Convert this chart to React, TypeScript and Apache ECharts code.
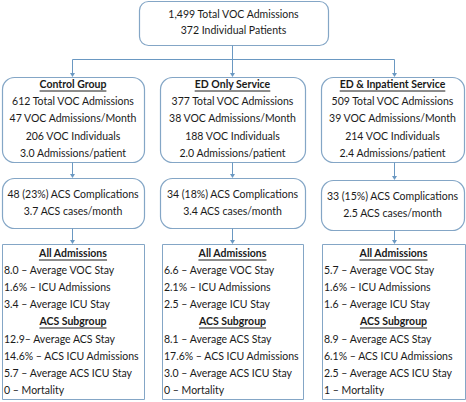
import React, { useEffect, useRef } from "react";
import * as echarts from "echarts";

const topLines = ["1,499 Total VOC Admissions", "372 Individual Patients"];
const groupTitles = ["Control Group", "ED Only Service", "ED & Inpatient Service"];
const totalAdmissions = [612, 377, 509];
const admissionsPerMonth = [47, 38, 39];
const vocIndividuals = [206, 188, 214];
const admissionsPerPatient = ["3.0", "2.0", "2.4"];
const acsComplications = [48, 34, 33];
const acsPercent = [23, 18, 15];
const acsPerMonth = ["3.7", "3.4", "2.5"];
const avgVocStay = ["8.0", "6.6", "5.7"];
const icuAdmissions = ["1.6%", "2.1%", "1.6%"];
const avgIcuStay = ["3.4", "2.5", "1.6"];
const avgAcsStay = ["12.9", "8.1", "8.9"];
const avgAcsStaySep = ["– ", " – ", " – "];
const acsIcuAdmissions = ["14.6%", "17.6%", "6.1%"];
const avgAcsIcuStay = ["5.7", "3.0", "2.5"];
const mortality = [0, 0, 1];
const sectionTitles = ["All Admissions", "ACS Subgroup"];

const FONT = "Lato, 'Open Sans', sans-serif";
const FS = 10.5;
const TEXT = "#1a1a1a";
const BORDER = "#84a6c6";
const ARROW = "#6a98c2";

function measure(t: string, bold: boolean) {
  const c = document.createElement("canvas").getContext("2d")!;
  c.font = `${bold ? "bold " : ""}${FS}px Lato`;
  return c.measureText(t).width;
}

export default function App() {
  const ref = useRef<HTMLDivElement>(null);
  useEffect(() => {
    const chart = echarts.init(ref.current!, null, { renderer: "svg" });
    const els: any[] = [];
    const txt = (t: string, x: number, y: number, align = "center", bold = false) =>
      els.push({
        type: "text",
        style: { text: t, x, y, fill: TEXT, font: `${bold ? "bold " : ""}${FS}px ${FONT}`, align, verticalAlign: "middle" },
      });
    const title = (t: string, x: number, y: number) => {
      txt(t, x, y, "center", true);
      const w = measure(t, true);
      els.push({ type: "line", shape: { x1: x - w / 2, y1: y + 7, x2: x + w / 2, y2: y + 7 }, style: { stroke: TEXT, lineWidth: 1 } });
    };
    const box = (x1: number, y1: number, x2: number, y2: number, r: number) =>
      els.push({ type: "rect", shape: { x: x1 + 0.5, y: y1 + 0.5, width: x2 - x1, height: y2 - y1, r }, style: { fill: "#fff", stroke: BORDER, lineWidth: 1.2 } });
    const line = (x1: number, y1: number, x2: number, y2: number) =>
      els.push({ type: "line", shape: { x1: x1 + 0.5, y1: y1 + 0.5, x2: x2 + 0.5, y2: y2 + 0.5 }, style: { stroke: ARROW, lineWidth: 1 } });
    const arrow = (x: number, y1: number, y2: number) => {
      line(x, y1, x, y2 - 3);
      els.push({ type: "polygon", shape: { points: [[x - 2, y2 - 4], [x + 3, y2 - 4], [x + 0.5, y2]] }, style: { fill: ARROW } });
    };

    // top box
    const topBox = [139, 1, 328, 45];
    box(topBox[0], topBox[1], topBox[2], topBox[3], 9);
    const topCx = (topBox[0] + topBox[2]) / 2;
    topLines.forEach((t, i) => txt(t, topCx, 14 + i * 16, "center"));

    const row2 = [[2, 144], [160, 305], [321, 464]];
    const row4 = [[2, 144], [162, 303], [322, 465]];
    const arrowX = [72, 232, 394];
    const row3Shift = [0, 0, 2];

    // connectors top -> row2
    line(232, 45, 232, 59);
    line(arrowX[0], 59, arrowX[2], 59);
    arrowX.forEach((x) => arrow(x, 59, 77));

    groupTitles.forEach((g, i) => {
      const [l, r] = row2[i];
      const cx = (l + r) / 2;
      box(l, 77, r, 162, 12);
      title(g, cx, 84);
      const lines = [
        `${totalAdmissions[i]} Total VOC Admissions`,
        `${admissionsPerMonth[i]} VOC Admissions/Month`,
        `${vocIndividuals[i]} VOC Individuals`,
        `${admissionsPerPatient[i]} Admissions/patient`,
      ];
      lines.forEach((t, k) => txt(t, cx, 101 + k * 17.3, "center"));

      // row 3
      const s = row3Shift[i];
      arrow(arrowX[i], 162, 178 + s);
      box(l, 178 + s, r, 228 + s, 12);
      txt(`${acsComplications[i]} (${acsPercent[i]}%) ACS Complications`, cx, 194 + s, "center");
      txt(`${acsPerMonth[i]} ACS cases/month`, cx, 211 + s, "center");

      // row 4
      arrow(arrowX[i], 228 + s, 244);
      const [l4, r4] = row4[i];
      const cx4 = (l4 + r4) / 2;
      els.push({ type: "rect", shape: { x: l4 + 0.5, y: 244.5, width: r4 - l4, height: 155 }, style: { fill: "#fff", stroke: BORDER, lineWidth: 1 } });
      title(sectionTitles[0], cx4, 253);
      const allLines = [
        `${avgVocStay[i]} – Average VOC Stay`,
        `${icuAdmissions[i]} – ICU Admissions`,
        `${avgIcuStay[i]} – Average ICU Stay`,
      ];
      allLines.forEach((t, k) => txt(t, l4 + 2, 270 + k * 16.8, "left"));
      title(sectionTitles[1], cx4, 321);
      const acsLines = [
        `${avgAcsStay[i]}${avgAcsStaySep[i]}Average ACS Stay`,
        `${acsIcuAdmissions[i]} – ACS ICU Admissions`,
        `${avgAcsIcuStay[i]} – Average ACS ICU Stay`,
        `${mortality[i]} – Mortality`,
      ];
      acsLines.forEach((t, k) => txt(t, l4 + 2, 339 + k * 17, "left"));
    });

    chart.setOption({ animation: false, graphic: { elements: els } });
    return () => chart.dispose();
  }, []);
  return (
    <div
      ref={ref}
      style={{ position: "fixed", left: 0, top: 0, width: 466, height: 402, background: "#fff" }}
    />
  );
}
